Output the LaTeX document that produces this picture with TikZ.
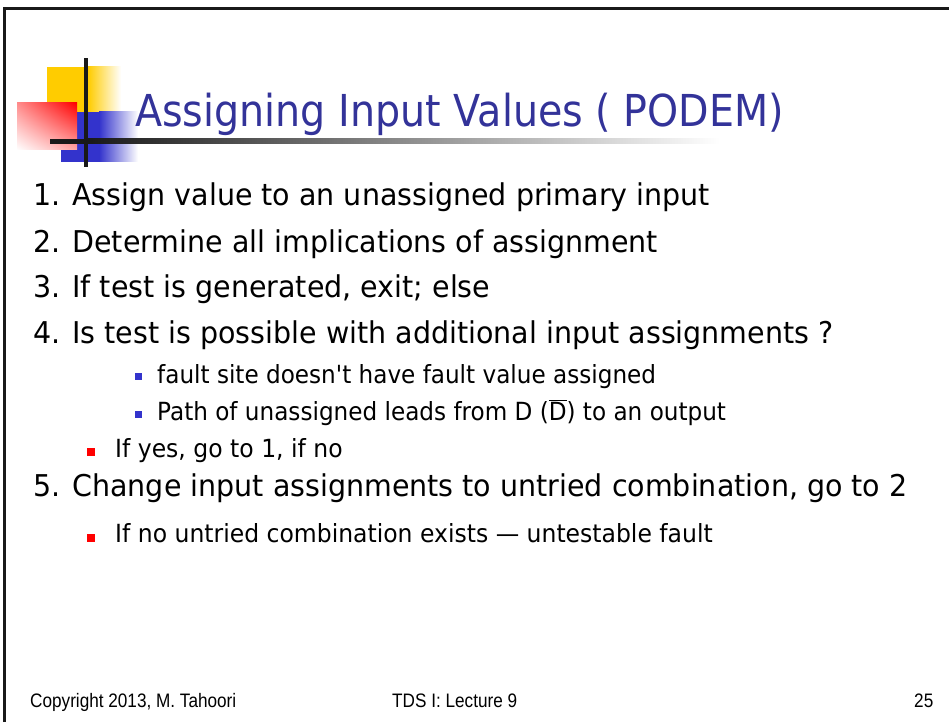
\documentclass[tikz,border=0pt]{standalone}
\usepackage{fontspec}
\usetikzlibrary{shadings}
\setmainfont{DejaVu Sans}[FakeStretch=0.9]
\newfontfamily\fontone{DejaVu Sans}[FakeStretch=0.95]
\newfontfamily\fonttwo{DejaVu Sans}[FakeStretch=0.94]
\newfontfamily\fontthree{DejaVu Sans}[FakeStretch=0.925]
\newfontfamily\footfont{Liberation Sans}[FakeStretch=0.88]
\definecolor{titleblue}{RGB}{51,51,153}
\definecolor{bulblue}{RGB}{51,51,204}
\definecolor{logoyellow}{RGB}{255,204,0}
\definecolor{logoblue}{RGB}{51,51,204}
\definecolor{framec}{RGB}{25,25,25}
\begin{document}
\begin{tikzpicture}[x=1pt,y=-1pt,
  titletext/.style={anchor=base west,inner sep=0pt,text=titleblue,font=\fontsize{44}{50}\selectfont},
  lvlone/.style={anchor=base west,inner sep=0pt,font=\fontone\fontsize{30}{36}\selectfont},
  lvltwo/.style={anchor=base west,inner sep=0pt,font=\fonttwo\fontsize{25}{30}\selectfont},
  lvlthree/.style={anchor=base west,inner sep=0pt,font=\fontthree\fontsize{25}{30}\selectfont},
  footer/.style={anchor=base west,inner sep=0pt,font=\footfont\fontsize{19.5}{22}\selectfont},
  redbullet/.style={fill=red,draw=none,inner sep=0pt,minimum size=8pt},
  bluebullet/.style={fill=bulblue,draw=none,inner sep=0pt,minimum size=7pt}]
\useasboundingbox (0,0) rectangle (949,722);
% frame
\draw[framec,line width=3pt] (4.5,722) -- (4.5,8.5) -- (949,8.5);
% logo
\fill[logoyellow] (47,67) rectangle (88,112);
\shade[left color=logoyellow,right color=white,draw=none] (88,67) rectangle (121,112);
\fill[logoblue] (61,112) rectangle (99,162);
\shade[left color=logoblue,right color=white,draw=none] (99,112) rectangle (138,162);
\shade[upper right=red,upper left=red!45,lower right=red!35,lower left=white] (17,103) rectangle (77,150);
\fill[framec] (84,58) rectangle (88,167);
\fill[framec] (50,139) rectangle (88,144);
\shade[left color=framec,right color=white] (88,139) rectangle (720,144);
% title
\node[titletext] (title) at (135,127) {Assigning Input Values ( PODEM)};
% body
\node[lvlone] (l1) at (33,205) {1. Assign value to an unassigned primary input};
\node[lvlone] (l2) at (33,252) {2. Determine all implications of assignment};
\node[lvlone] (l3) at (33,297) {3. If test is generated, exit; else};
\node[lvlone] (l4) at (33,343) {4. Is test is possible with additional input assignments ?};
\node[bluebullet] (b1) at (138.5,376.5) {};
\node[lvlthree] (l41) at (157,383) {fault site doesn't have fault value assigned};
\node[bluebullet] (b2) at (138.5,414.5) {};
\node[lvlthree] (l42) at (157,420) {Path of unassigned leads from D (\(\overline{\mbox{D}}\)) to an output};
\node[redbullet] (r1) at (91,452) {};
\node[lvltwo] (l43) at (115,457) {If yes, go to 1, if no};
\node[lvlone] (l5) at (33,496) {5. Change input assignments to untried combination, go to 2};
\node[redbullet] (r2) at (91,537.5) {};
\node[lvltwo] (l51) at (115,542) {If no untried combination exists — untestable fault};
% footer
\node[footer] (f1) at (30,707) {Copyright 2013, M. Tahoori};
\node[footer] (f2) at (392,707) {TDS I: Lecture 9};
\node[footer] (f3) at (914,707) {25};
\end{tikzpicture}
\end{document}
